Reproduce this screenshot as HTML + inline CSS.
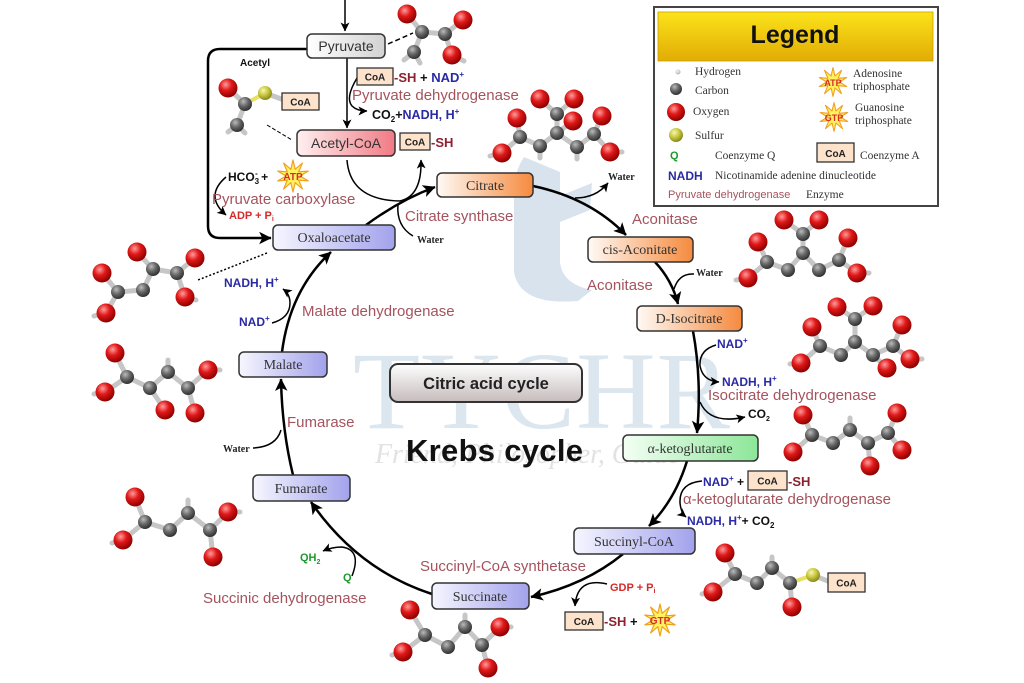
<!DOCTYPE html>
<html><head><meta charset="utf-8"><style>
html,body{margin:0;padding:0;background:#fff;}
svg{display:block}
.en{font-family:"Liberation Sans",sans-serif;font-size:15px;fill:#a5535d}
.bl{font-family:"Liberation Sans",sans-serif;font-size:12px;font-weight:bold;fill:#2a2aa5}
.bk{font-family:"Liberation Sans",sans-serif;font-size:12px;font-weight:bold;fill:#111}
.rd{font-family:"Liberation Sans",sans-serif;font-size:11px;font-weight:bold;fill:#d42a2a}
.gr{font-family:"Liberation Sans",sans-serif;font-size:11px;font-weight:bold;fill:#1c9a2c}
.nd{font-family:"Liberation Serif",serif;font-size:14px;fill:#333;text-anchor:middle}
.ns{font-family:"Liberation Sans",sans-serif;font-size:14px;fill:#333;text-anchor:middle}
.w{font-family:"Liberation Serif",serif;font-size:10px;font-weight:bold;fill:#222}
.lg{font-family:"Liberation Serif",serif;font-size:11.5px;fill:#333}
.coa{font-family:"Liberation Sans",sans-serif;font-size:10px;font-weight:bold;fill:#222;text-anchor:middle}
.sh{font-family:"Liberation Sans",sans-serif;font-size:13px;font-weight:bold;fill:#8e2030}
.o{fill:url(#gO)} .c{fill:url(#gC)} .s{fill:url(#gS)} .h{fill:url(#gH)}
.b{stroke:#c6c6c6;stroke-width:5;stroke-linecap:round;stroke-linejoin:round;fill:none}
.m{stroke:#000;stroke-width:2.5;fill:none}
.a{stroke:#000;stroke-width:1.5;fill:none}
.box{stroke:#333;stroke-width:1.5}
.cb{fill:#fde3cc;stroke:#333;stroke-width:1.3}
.star{fill:#fff25e;stroke:#f0a020;stroke-width:1.2;stroke-linejoin:round}
</style></head><body>
<svg width="1024" height="683" viewBox="0 0 1024 683">
<defs>
<radialGradient id="gO" cx="0.38" cy="0.32" r="0.7"><stop offset="0" stop-color="#ff9c9c"/><stop offset="0.45" stop-color="#e01818"/><stop offset="1" stop-color="#8a0000"/></radialGradient>
<radialGradient id="gC" cx="0.38" cy="0.32" r="0.7"><stop offset="0" stop-color="#bbbbbb"/><stop offset="0.5" stop-color="#666"/><stop offset="1" stop-color="#2e2e2e"/></radialGradient>
<radialGradient id="gS" cx="0.38" cy="0.32" r="0.7"><stop offset="0" stop-color="#f7f7b0"/><stop offset="0.5" stop-color="#c8c840"/><stop offset="1" stop-color="#85851a"/></radialGradient>
<radialGradient id="gH" cx="0.4" cy="0.35" r="0.7"><stop offset="0" stop-color="#f4f4f4"/><stop offset="1" stop-color="#a8b0b8"/></radialGradient>
<linearGradient id="gPy" x1="0" x2="1"><stop offset="0" stop-color="#ffffff"/><stop offset="1" stop-color="#d2d2d2"/></linearGradient>
<linearGradient id="gAc" x1="0" x2="1"><stop offset="0" stop-color="#fff0f0"/><stop offset="1" stop-color="#f07a84"/></linearGradient>
<linearGradient id="gOr" x1="0" x2="1"><stop offset="0" stop-color="#fffaf5"/><stop offset="1" stop-color="#f58a3e"/></linearGradient>
<linearGradient id="gGr" x1="0" x2="1"><stop offset="0" stop-color="#f4fff4"/><stop offset="1" stop-color="#8ce698"/></linearGradient>
<linearGradient id="gBl" x1="0" x2="1"><stop offset="0" stop-color="#f6f6ff"/><stop offset="1" stop-color="#a2a2ec"/></linearGradient>
<linearGradient id="gCy" x1="0" x2="0" y1="0" y2="1"><stop offset="0" stop-color="#fefefe"/><stop offset="1" stop-color="#c6bcbc"/></linearGradient>
<linearGradient id="gLg" x1="0" x2="0" y1="0" y2="1"><stop offset="0" stop-color="#fbe31a"/><stop offset="1" stop-color="#e2ac05"/></linearGradient>
<marker id="ah" viewBox="0 0 10 10" refX="9.5" refY="5" markerWidth="5" markerHeight="5" orient="auto" markerUnits="strokeWidth"><path d="M0,0 L10,5 L0,10 L2.5,5 z" fill="#000"/></marker>
<marker id="as" viewBox="0 0 10 10" refX="9.5" refY="5" markerWidth="6" markerHeight="6" orient="auto" markerUnits="strokeWidth"><path d="M0,0 L10,5 L0,10 L2.5,5 z" fill="#000"/></marker>
<polygon id="st" points="0,-16 2.16,-6.66 9.4,-12.94 5.66,-4.11 15.22,-4.94 7,0 15.22,4.94 5.66,4.11 9.4,12.94 2.16,6.66 0,16 -2.16,6.66 -9.4,12.94 -5.66,4.11 -15.22,4.94 -7,0 -15.22,-4.94 -5.66,-4.11 -9.4,-12.94 -2.16,-6.66"/>
</defs>

<!-- watermark -->
<path d="M524,157 L560,172 L560,196 L592,183 L590,210 L560,222 L560,262 Q562,284 592,290 L578,301 Q520,306 514,272 L514,200 Q512,175 524,157 Z" fill="#d9e3ee"/>
<text x="353" y="428" font-family="Liberation Serif" font-size="110" fill="#dce6ef" textLength="377">TYCHR</text>
<text x="375" y="463" font-family="Liberation Serif" font-style="italic" font-size="28" fill="#e2e2e2" textLength="305">Friend, Philosopher, Guide</text>

<!-- Legend -->
<rect x="654" y="7" width="284" height="199" fill="#fff" stroke="#444" stroke-width="2"/>
<rect x="658" y="12" width="275" height="49" fill="url(#gLg)" stroke="#c9a000" stroke-width="0.8"/>
<text x="795" y="43" text-anchor="middle" font-family="Liberation Sans" font-weight="bold" font-size="25" fill="#111">Legend</text>
<circle class="h" cx="678" cy="72" r="2.5"/>
<circle class="c" cx="676" cy="89" r="6"/>
<circle class="o" cx="676" cy="112" r="9"/>
<circle class="s" cx="676" cy="135" r="7"/>
<text class="lg" x="695" y="75">Hydrogen</text>
<text class="lg" x="695" y="94">Carbon</text>
<text class="lg" x="693" y="115">Oxygen</text>
<text class="lg" x="695" y="139">Sulfur</text>
<text class="gr" x="670" y="159" font-size="13">Q</text>
<text class="lg" x="715" y="159">Coenzyme Q</text>
<text class="bl" x="668" y="180" font-size="13">NADH</text>
<text class="lg" x="715" y="179">Nicotinamide adenine dinucleotide</text>
<text x="668" y="198" font-family="Liberation Sans" font-size="11" fill="#a5535d">Pyruvate dehydrogenase</text>
<text class="lg" x="806" y="198">Enzyme</text>
<use href="#st" x="833" y="82" class="star" transform="translate(833,82) scale(0.9) translate(-833,-82)"/>
<text x="833" y="86" text-anchor="middle" font-family="Liberation Sans" font-weight="bold" font-size="9" fill="#d42a2a">ATP</text>
<text class="lg" x="853" y="77">Adenosine</text>
<text class="lg" x="853" y="90">triphosphate</text>
<use href="#st" x="834" y="117" class="star" transform="translate(834,117) scale(0.9) translate(-834,-117)"/>
<text x="834" y="121" text-anchor="middle" font-family="Liberation Sans" font-weight="bold" font-size="9" fill="#d42a2a">GTP</text>
<text class="lg" x="855" y="111">Guanosine</text>
<text class="lg" x="855" y="124">triphosphate</text>
<rect class="cb" x="817" y="143" width="37" height="19"/>
<text class="coa" x="835.5" y="157" font-size="11">CoA</text>
<text class="lg" x="860" y="159">Coenzyme A</text>

<!-- molecules: bonds -->
<path class="b" d="M407,14 L422,32 L445,34 L463,20 M445,34 L452,55 M422,32 L414,52 M414,52 L404,60 M414,52 L420,63 M452,55 L464,61"/>
<path class="b" d="M540,99 L557,114 L574,99 M557,114 L557,133 L573,121 M557,133 L540,146 L520,137 L517,118 M520,137 L502,153 M557,133 L577,147 L594,134 L602,116 M594,134 L610,152 M502,153 L490,156 M610,152 L622,152 M540,146 L540,158 M577,147 L577,159"/>
<path class="b" d="M784,220 L803,234 L819,220 M803,234 L803,253 L788,270 L767,262 L758,242 M767,262 L748,278 M803,253 L819,270 L839,260 L848,238 M839,260 L857,273 M748,278 L736,280 M857,273 L869,273"/>
<path class="b" d="M837,307 L855,319 L873,306 M855,319 L855,342 L841,355 L820,346 L812,327 M820,346 L801,363 M855,342 L873,355 L893,346 L902,325 M893,346 L910,359 M873,355 L887,368 M801,363 L790,364 M910,359 L922,359"/>
<path class="b" d="M803,415 L812,435 L793,452 M812,435 L833,443 L850,430 L868,443 L888,433 L897,413 M868,443 L870,466 M888,433 L902,450 M850,430 L850,418"/>
<path class="b" d="M725,553 L735,574 L713,592 M735,574 L757,583 L772,568 L790,583 L792,607 M713,592 L702,594 M772,568 L772,557 M813,575 L830,582"/>
<path d="M790,583 L813,575" stroke="#e8e060" stroke-width="4" fill="none"/>
<path class="b" d="M410,610 L425,635 L403,652 M425,635 L448,647 L465,627 L482,645 L500,627 M482,645 L488,668 M403,652 L392,655 M465,627 L465,615 M500,627 L511,627"/>
<path class="b" d="M135,497 L145,522 L123,540 M145,522 L170,530 L188,513 L210,530 L228,512 M210,530 L213,557 M123,540 L112,543 M188,513 L188,500 M228,512 L240,512"/>
<path class="b" d="M115,353 L127,377 L105,392 M127,377 L150,388 L168,372 L188,388 L208,370 M188,388 L195,413 M150,388 L165,410 M105,392 L94,394 M168,372 L168,360 M208,370 L220,370"/>
<path class="b" d="M137,252 L153,269 L177,273 L195,258 M177,273 L185,297 M153,269 L143,290 L118,292 L102,273 M118,292 L106,313 M106,313 L94,316 M185,297 L196,300"/>
<path class="b" d="M228,88 L245,104 L237,125 M265,93 L284,100 M237,125 L228,132 M237,125 L245,133"/>
<path d="M245,104 L265,93" stroke="#e8e060" stroke-width="4" fill="none"/>

<!-- molecules: atoms -->
<g>
<circle class="o" cx="407" cy="14" r="9.5"/><circle class="o" cx="463" cy="20" r="9.5"/><circle class="o" cx="452" cy="55" r="9.5"/>
<circle class="c" cx="422" cy="32" r="7"/><circle class="c" cx="445" cy="34" r="7"/><circle class="c" cx="414" cy="52" r="7"/>

<circle class="o" cx="540" cy="99" r="9.5"/><circle class="o" cx="574" cy="99" r="9.5"/><circle class="o" cx="573" cy="121" r="9.5"/><circle class="o" cx="517" cy="118" r="9.5"/><circle class="o" cx="502" cy="153" r="9.5"/><circle class="o" cx="602" cy="116" r="9.5"/><circle class="o" cx="610" cy="152" r="9.5"/>
<circle class="c" cx="557" cy="114" r="7"/><circle class="c" cx="557" cy="133" r="7"/><circle class="c" cx="540" cy="146" r="7"/><circle class="c" cx="520" cy="137" r="7"/><circle class="c" cx="577" cy="147" r="7"/><circle class="c" cx="594" cy="134" r="7"/>

<circle class="o" cx="784" cy="220" r="9.5"/><circle class="o" cx="819" cy="220" r="9.5"/><circle class="o" cx="758" cy="242" r="9.5"/><circle class="o" cx="848" cy="238" r="9.5"/><circle class="o" cx="748" cy="278" r="9.5"/><circle class="o" cx="857" cy="273" r="9.5"/>
<circle class="c" cx="803" cy="234" r="7"/><circle class="c" cx="803" cy="253" r="7"/><circle class="c" cx="788" cy="270" r="7"/><circle class="c" cx="767" cy="262" r="7"/><circle class="c" cx="819" cy="270" r="7"/><circle class="c" cx="839" cy="260" r="7"/>

<circle class="o" cx="837" cy="307" r="9.5"/><circle class="o" cx="873" cy="306" r="9.5"/><circle class="o" cx="812" cy="327" r="9.5"/><circle class="o" cx="902" cy="325" r="9.5"/><circle class="o" cx="801" cy="363" r="9.5"/><circle class="o" cx="887" cy="368" r="9.5"/><circle class="o" cx="910" cy="359" r="9.5"/>
<circle class="c" cx="855" cy="319" r="7"/><circle class="c" cx="855" cy="342" r="7"/><circle class="c" cx="841" cy="355" r="7"/><circle class="c" cx="820" cy="346" r="7"/><circle class="c" cx="873" cy="355" r="7"/><circle class="c" cx="893" cy="346" r="7"/>

<circle class="o" cx="803" cy="415" r="9.5"/><circle class="o" cx="793" cy="452" r="9.5"/><circle class="o" cx="897" cy="413" r="9.5"/><circle class="o" cx="870" cy="466" r="9.5"/><circle class="o" cx="902" cy="450" r="9.5"/>
<circle class="c" cx="812" cy="435" r="7"/><circle class="c" cx="833" cy="443" r="7"/><circle class="c" cx="850" cy="430" r="7"/><circle class="c" cx="868" cy="443" r="7"/><circle class="c" cx="888" cy="433" r="7"/>

<circle class="o" cx="725" cy="553" r="9.5"/><circle class="o" cx="713" cy="592" r="9.5"/><circle class="o" cx="792" cy="607" r="9.5"/>
<circle class="c" cx="735" cy="574" r="7"/><circle class="c" cx="757" cy="583" r="7"/><circle class="c" cx="772" cy="568" r="7"/><circle class="c" cx="790" cy="583" r="7"/>
<circle class="s" cx="813" cy="575" r="7"/>

<circle class="o" cx="410" cy="610" r="9.5"/><circle class="o" cx="403" cy="652" r="9.5"/><circle class="o" cx="500" cy="627" r="9.5"/><circle class="o" cx="488" cy="668" r="9.5"/>
<circle class="c" cx="425" cy="635" r="7"/><circle class="c" cx="448" cy="647" r="7"/><circle class="c" cx="465" cy="627" r="7"/><circle class="c" cx="482" cy="645" r="7"/>

<circle class="o" cx="135" cy="497" r="9.5"/><circle class="o" cx="123" cy="540" r="9.5"/><circle class="o" cx="228" cy="512" r="9.5"/><circle class="o" cx="213" cy="557" r="9.5"/>
<circle class="c" cx="145" cy="522" r="7"/><circle class="c" cx="170" cy="530" r="7"/><circle class="c" cx="188" cy="513" r="7"/><circle class="c" cx="210" cy="530" r="7"/>

<circle class="o" cx="115" cy="353" r="9.5"/><circle class="o" cx="105" cy="392" r="9.5"/><circle class="o" cx="208" cy="370" r="9.5"/><circle class="o" cx="195" cy="413" r="9.5"/><circle class="o" cx="165" cy="410" r="9.5"/>
<circle class="c" cx="127" cy="377" r="7"/><circle class="c" cx="150" cy="388" r="7"/><circle class="c" cx="168" cy="372" r="7"/><circle class="c" cx="188" cy="388" r="7"/>

<circle class="o" cx="137" cy="252" r="9.5"/><circle class="o" cx="195" cy="258" r="9.5"/><circle class="o" cx="185" cy="297" r="9.5"/><circle class="o" cx="102" cy="273" r="9.5"/><circle class="o" cx="106" cy="313" r="9.5"/>
<circle class="c" cx="153" cy="269" r="7"/><circle class="c" cx="177" cy="273" r="7"/><circle class="c" cx="143" cy="290" r="7"/><circle class="c" cx="118" cy="292" r="7"/>

<circle class="o" cx="228" cy="88" r="9.5"/><circle class="c" cx="245" cy="104" r="7"/><circle class="c" cx="237" cy="125" r="7"/><circle class="s" cx="265" cy="93" r="7"/>
</g>
<rect class="cb" x="282" y="93" width="37" height="17"/><text class="coa" x="300.5" y="105.5">CoA</text>
<rect class="cb" x="828" y="573" width="37" height="19"/><text class="coa" x="846.5" y="586.5">CoA</text>

<!-- connectors -->
<path class="a" d="M345,0 L345,31" marker-end="url(#as)"/>
<path class="a" d="M347,58 L347,128" marker-end="url(#as)"/>
<path class="m" d="M307,49 L220,49 Q208,49 208,61 L208,226 Q208,238 220,238 L271,238" marker-end="url(#ah)"/>
<path d="M388,44 L413,33" stroke="#000" stroke-width="1.5" stroke-dasharray="5,3" fill="none"/>
<path d="M267,125 L292,140" stroke="#000" stroke-width="1" stroke-dasharray="4,2" fill="none"/>
<path d="M267,253 L198,280" stroke="#000" stroke-width="1.5" stroke-dasharray="2,2" fill="none"/>
<path class="a" d="M357,78 Q345,98 352,106 Q357,111 367,111" marker-end="url(#as)"/>
<path class="a" d="M347,160 Q350,200 400,201"/>
<path class="a" d="M400,201 Q422,196 421,160" marker-end="url(#as)"/>
<path class="a" d="M413,236 Q396,226 398,204"/>
<path class="a" d="M575,198 Q596,198 608,183" marker-end="url(#as)"/>
<path class="a" d="M226,177 Q204,196 226,215" marker-end="url(#as)"/>
<path class="a" d="M694,274 Q679,273 674,289"/>
<path class="a" d="M716,345 Q699,350 700,366 Q703,381 719,382" marker-end="url(#as)"/>
<path class="a" d="M700,402 Q710,425 745,417" marker-end="url(#as)"/>
<path class="a" d="M702,481 Q679,483 680,503 Q681,513 686,517" marker-end="url(#as)"/>
<path class="a" d="M607,584 Q577,577 575,606" marker-end="url(#as)"/>
<path class="a" d="M352,576 Q362,550 342,547 Q332,547 323,551" marker-end="url(#as)"/>
<path class="a" d="M253,448 Q276,447 281,430"/>
<path class="a" d="M272,323 Q290,318 290,303 Q290,294 283,289" marker-end="url(#as)"/>

<!-- main cycle -->
<path class="m" d="M366,225 Q400,200 435,187" marker-end="url(#ah)"/>
<path class="m" d="M533,186 Q590,198 626,235" marker-end="url(#ah)"/>
<path class="m" d="M655,262 Q672,280 678,304" marker-end="url(#ah)"/>
<path class="m" d="M693,331 Q702,380 697,433" marker-end="url(#ah)"/>
<path class="m" d="M687,461 Q675,500 649,526" marker-end="url(#ah)"/>
<path class="m" d="M623,554 Q585,585 531,597" marker-end="url(#ah)"/>
<path class="m" d="M432,594 Q358,570 311,502" marker-end="url(#ah)"/>
<path class="m" d="M293,475 Q282,430 281,379" marker-end="url(#ah)"/>
<path class="m" d="M282,352 Q290,290 331,252" marker-end="url(#ah)"/>

<!-- nodes -->
<rect class="box" x="307" y="34" width="78" height="24" rx="5" fill="url(#gPy)"/><text class="ns" x="346" y="51">Pyruvate</text>
<rect class="box" x="297" y="130" width="98" height="26" rx="5" fill="url(#gAc)"/><text class="ns" x="346" y="148" font-size="15">Acetyl-CoA</text>
<rect class="box" x="437" y="173" width="96" height="24" rx="5" fill="url(#gOr)"/><text class="nd" x="485" y="190">Citrate</text>
<rect class="box" x="273" y="225" width="122" height="25" rx="5" fill="url(#gBl)"/><text class="nd" x="334" y="242">Oxaloacetate</text>
<rect class="box" x="588" y="237" width="105" height="25" rx="5" fill="url(#gOr)"/><text class="nd" x="640" y="254">cis-Aconitate</text>
<rect class="box" x="637" y="306" width="105" height="25" rx="5" fill="url(#gOr)"/><text class="nd" x="689" y="323">D-Isocitrate</text>
<rect class="box" x="623" y="435" width="135" height="26" rx="5" fill="url(#gGr)"/><text class="nd" x="690" y="453">α-ketoglutarate</text>
<rect class="box" x="574" y="528" width="121" height="26" rx="5" fill="url(#gBl)"/><text class="nd" x="634" y="546">Succinyl-CoA</text>
<rect class="box" x="432" y="583" width="97" height="26" rx="5" fill="url(#gBl)"/><text class="nd" x="480" y="601">Succinate</text>
<rect class="box" x="253" y="475" width="97" height="26" rx="5" fill="url(#gBl)"/><text class="nd" x="301" y="493">Fumarate</text>
<rect class="box" x="239" y="352" width="88" height="25" rx="5" fill="url(#gBl)"/><text class="nd" x="283" y="369">Malate</text>
<rect x="390" y="364" width="192" height="38" rx="8" fill="url(#gCy)" stroke="#333" stroke-width="2"/>
<text x="486" y="389" text-anchor="middle" font-family="Liberation Sans" font-weight="bold" font-size="16.5" fill="#222">Citric acid cycle</text>
<text x="406" y="461" font-family="Liberation Sans" font-weight="bold" font-size="31" fill="#111" textLength="177">Krebs cycle</text>

<!-- labels -->
<text x="240" y="66" font-family="Liberation Sans" font-weight="bold" font-size="10" fill="#111">Acetyl</text>
<rect class="cb" x="357" y="68" width="36" height="17"/><text class="coa" x="375" y="80.5">CoA</text>
<text x="394" y="82" font-family="Liberation Sans" font-weight="bold" font-size="13"><tspan fill="#8e2030">-SH</tspan><tspan fill="#111"> + </tspan><tspan fill="#2a2aa5">NAD</tspan><tspan fill="#2a2aa5" font-size="8" dy="-5">+</tspan></text>
<text class="en" x="352" y="100">Pyruvate dehydrogenase</text>
<text x="372" y="119" font-family="Liberation Sans" font-weight="bold" font-size="12.5"><tspan fill="#111">CO</tspan><tspan fill="#111" font-size="8" dy="3">2</tspan><tspan fill="#111" dy="-3">+</tspan><tspan fill="#2a2aa5">NADH, H</tspan><tspan fill="#2a2aa5" font-size="8" dy="-5">+</tspan></text>
<rect class="cb" x="400" y="133" width="30" height="17"/><text class="coa" x="415" y="145.5">CoA</text>
<text class="sh" x="431" y="147">-SH</text>

<text class="bk" x="228" y="181">HCO<tspan font-size="8" dy="3">3</tspan><tspan font-size="8" dy="-8" dx="-4">-</tspan><tspan dy="5"> +</tspan></text>
<use href="#st" class="star" transform="translate(293,176)"/>
<text x="293" y="180" text-anchor="middle" font-family="Liberation Sans" font-weight="bold" font-size="10" fill="#d42a2a">ATP</text>
<text class="en" x="212" y="204" font-size="14.5">Pyruvate carboxylase</text>
<text class="rd" x="229" y="219">ADP + P<tspan font-size="7" dy="2">i</tspan></text>
<text class="en" x="405" y="221">Citrate synthase</text>
<text class="w" x="417" y="243">Water</text>
<text class="w" x="608" y="180">Water</text>
<text class="en" x="632" y="224" font-size="14">Aconitase</text>
<text class="w" x="696" y="276">Water</text>
<text class="en" x="587" y="290" font-size="14">Aconitase</text>
<text class="bl" x="717" y="348">NAD<tspan font-size="8" dy="-5">+</tspan></text>
<text class="bl" x="722" y="386">NADH, H<tspan font-size="8" dy="-5">+</tspan></text>
<text class="en" x="708" y="400">Isocitrate dehydrogenase</text>
<text class="bk" x="748" y="418" font-size="11">CO<tspan font-size="7" dy="3">2</tspan></text>
<text class="bl" x="703" y="486">NAD<tspan font-size="8" dy="-5">+</tspan><tspan fill="#111" dy="5"> +</tspan></text>
<rect class="cb" x="748" y="471" width="39" height="19"/><text class="coa" x="767.5" y="484.5">CoA</text>
<text class="sh" x="788" y="486">-SH</text>
<text class="en" x="683" y="504">α-ketoglutarate dehydrogenase</text>
<text class="bl" x="687" y="525">NADH, H<tspan font-size="8" dy="-5">+</tspan><tspan fill="#111" dy="5">+ CO</tspan><tspan fill="#111" font-size="8" dy="3">2</tspan></text>
<text class="en" x="420" y="571">Succinyl-CoA synthetase</text>
<text class="rd" x="610" y="591">GDP + P<tspan font-size="7" dy="2">i</tspan></text>
<rect class="cb" x="565" y="612" width="38" height="18"/><text class="coa" x="584" y="625">CoA</text>
<text x="604" y="626" font-family="Liberation Sans" font-weight="bold" font-size="13"><tspan fill="#8e2030">-SH</tspan><tspan fill="#111"> +</tspan></text>
<use href="#st" class="star" transform="translate(660,620)"/>
<text x="660" y="624" text-anchor="middle" font-family="Liberation Sans" font-weight="bold" font-size="10" fill="#d42a2a">GTP</text>
<text class="gr" x="300" y="561">QH<tspan font-size="7" dy="3">2</tspan></text>
<text class="gr" x="343" y="581">Q</text>
<text class="en" x="203" y="603">Succinic dehydrogenase</text>
<text class="en" x="287" y="427">Fumarase</text>
<text class="w" x="223" y="452">Water</text>
<text class="en" x="302" y="316">Malate dehydrogenase</text>
<text class="bl" x="239" y="326">NAD<tspan font-size="8" dy="-5">+</tspan></text>
<text class="bl" x="224" y="287">NADH, H<tspan font-size="8" dy="-5">+</tspan></text>
</svg>
</body></html>
